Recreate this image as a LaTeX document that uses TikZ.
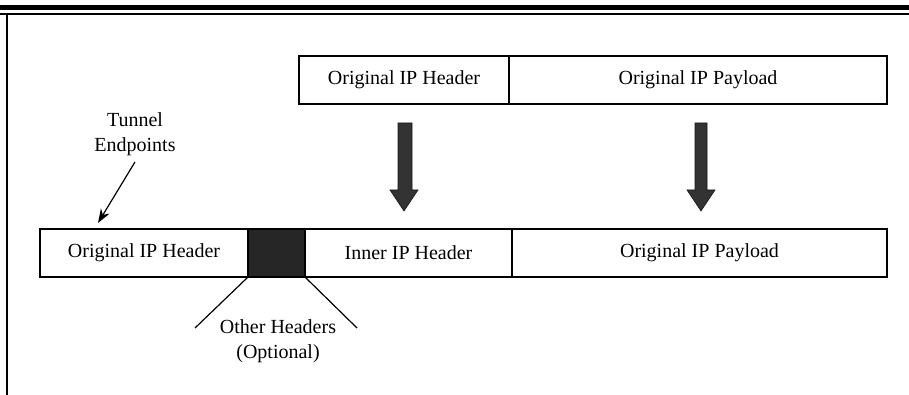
\documentclass[tikz,border=0pt]{standalone}
\usepackage{fontspec}
\setmainfont{Liberation Serif}
\usetikzlibrary{arrows.meta}
\begin{document}
\begin{tikzpicture}[x=0.5pt,y=-0.5pt,
  cell/.style={draw=black, line width=0.7pt, inner sep=0pt, minimum height=24pt, font=\fontsize{10}{12}\selectfont},
  darkcell/.style={draw=black, fill=black!85, line width=0.7pt, inner sep=0pt, minimum height=24pt},
  lbl/.style={align=center, font=\fontsize{10}{12.5}\selectfont, inner sep=0pt},
  bigarrow/.style={fill=black!80, draw=black!90, line width=0.3pt},
  thin/.style={draw=black, line width=0.6pt}]
\useasboundingbox (0,0) rectangle (909,395);
% frame
\fill[black] (0,5) rectangle (909,10);
\draw[line width=0.9pt] (0,14) -- (909,14);
\draw[line width=0.8pt] (7,14) -- (7,395);
% top row
\node[cell, minimum width=105pt] (th) at (404,80) {Original IP Header};
\node[cell, minimum width=189pt] (tp) at (698,80) {Original IP Payload};
% bottom row
\node[cell, minimum width=104pt] (bh) at (144,253) {Original IP Header};
\node[darkcell, minimum width=28.5pt] (oh) at (276.5,253) {};
\node[cell, minimum width=103.5pt] (ih) at (408.5,253) {Inner IP Header};
\node[cell, minimum width=187.5pt] (bp) at (699.5,253) {Original IP Payload};
% big arrows
\path[bigarrow] (398,123) -- (412,123) -- (412,190) -- (418,190) -- (404,211) -- (390,190) -- (398,190) -- cycle;
\path[bigarrow] (695,123) -- (707,123) -- (707,190) -- (715,190) -- (701,211) -- (687,190) -- (695,190) -- cycle;
% tunnel endpoints
\node[lbl] (te) at (135,134) {Tunnel\\Endpoints};
\coordinate (tetip) at (98,223);
\draw[thin, -{Stealth[length=7pt,width=5pt]}] (te.south) ++(0,6) -- (tetip);
% other headers
\node[lbl] (ot) at (278,341) {Other Headers\\(Optional)};
\coordinate (ol) at (195,328);
\coordinate (or) at (357,328);
\draw[thin] (oh.south west) -- (ol);
\draw[thin] (oh.south east) -- (or);
\end{tikzpicture}
\end{document}
